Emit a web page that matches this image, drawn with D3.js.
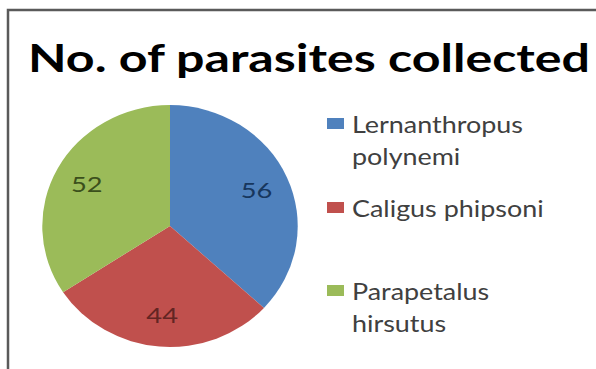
<!DOCTYPE html>
<html>
<head>
<meta charset="utf-8">
<script src="https://cdn.jsdelivr.net/npm/d3@7"></script>
<style>
  body { margin:0; background:#fff; }
  text { font-family: Lato, "Open Sans", sans-serif; }
</style>
</head>
<body>
<div id="chart"></div>
<script>
var w=596, h=369;

//Chart data
var species=["Lernanthropus polynemi","Caligus phipsoni","Parapetalus hirsutus"];
var counts=[56,44,52];
var legendLines=[["Lernanthropus","polynemi"],["Caligus phipsoni"],["Parapetalus","hirsutus"]];
var sliceColors=["#4f81bd","#c0504d","#9bbb59"];
var labelColors=["#17375e","#632523","#3b4f1c"];

var svg=d3.select("#chart")
          .append("svg")
          .attr("width",w)
          .attr("height",h);

//Frame lines (top and left only visible)
svg.append("path")
   .attr("d","M8,"+h+"V10H"+w)
   .attr("fill","none")
   .attr("stroke","#5a5a5a")
   .attr("stroke-width",2.5);

//Title
svg.append("text")
   .attr("x",28)
   .attr("y",72)
   .attr("textLength",562)
   .attr("lengthAdjust","spacingAndGlyphs")
   .style("font-weight","bold")
   .style("font-size","39px")
   .style("fill","#000")
   .text("No. of parasites collected");

//Pie
var r=124;
var pie=d3.pie().sort(null).value(function(d) {return d;});
var arc=d3.arc().innerRadius(0).outerRadius(r);
var labelArc=d3.arc().innerRadius(r*0.74).outerRadius(r*0.74);

var g=svg.append("g")
         .attr("transform","translate(170,226)");

var arcs=pie(counts);
g.selectAll("path")
 .data(arcs)
 .enter()
 .append("path")
 .attr("transform","scale(1.03,0.975)")
 .attr("d",arc)
 .style("fill",function(d,i) {return sliceColors[i];});

g.selectAll(".value-labels")
 .data(arcs)
 .enter()
 .append("text")
 .attr("class","value-labels")
 .attr("transform",function(d) {
     var c=labelArc.centroid(d);
     return "translate("+(c[0]*1.03)+","+(c[1]*0.975)+") scale(1.3,1)";
 })
 .attr("text-anchor","middle")
 .attr("dominant-baseline","central")
 .style("font-size","21px")
 .style("fill",function(d,i) {return labelColors[i];})
 .text(function(d) {return d.value;});

//Legend
var legendY=[124,208,291];
var leg=svg.append("g").attr("class","legend");
legendLines.forEach(function(lines,i) {
    leg.append("rect")
       .attr("x",327)
       .attr("y",legendY[i]-6)
       .attr("width",17)
       .attr("height",11)
       .style("fill",sliceColors[i]);
    lines.forEach(function(t,j) {
        leg.append("text")
           .attr("transform","translate(352,"+(legendY[i]+j*32)+") scale(1.17,1)")
           .attr("dominant-baseline","central")
           .style("font-size","23px")
           .style("fill","#404040")
           .text(t);
    });
});
</script>
</body>
</html>
